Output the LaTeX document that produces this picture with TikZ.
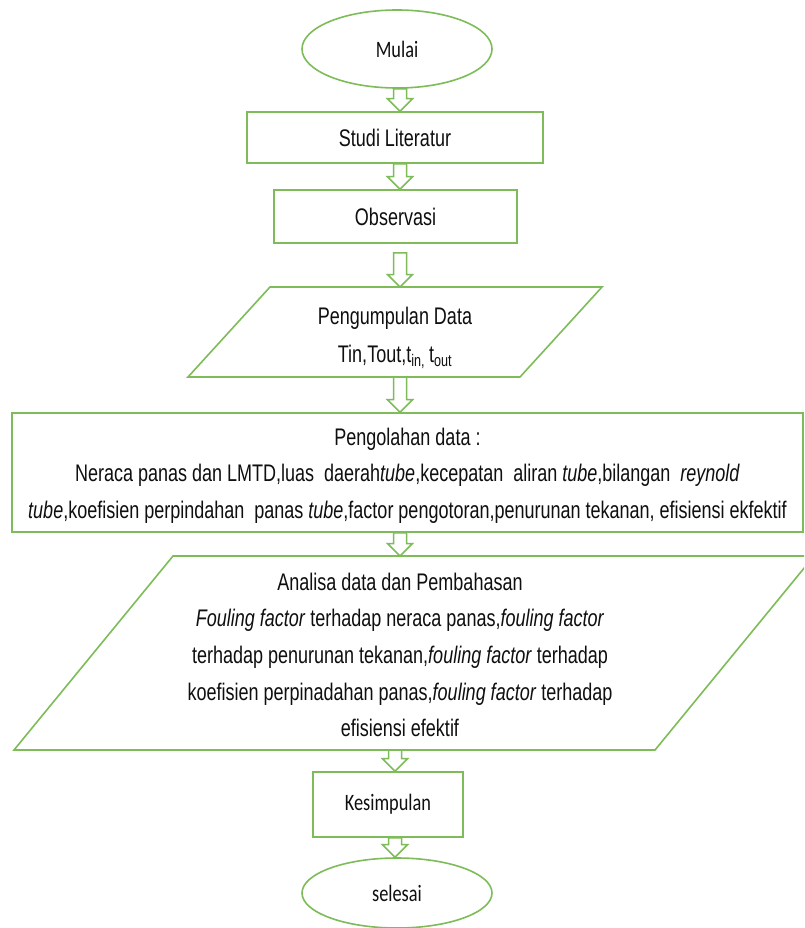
\documentclass[tikz,border=0pt]{standalone}
\usepackage{fontspec}
\setmainfont{Liberation Sans}
\newfontfamily\nf[FakeStretch=0.75]{Liberation Sans}
\newfontfamily\cf[FakeStretch=0.78]{Carlito}
\usetikzlibrary{shapes.geometric,calc}
\definecolor{lg}{RGB}{125,188,88}
\definecolor{tx}{RGB}{15,15,15}
\tikzset{
  edge/.style={draw=lg,line width=1.6pt},
  term/.style={ellipse,edge,fill=white,inner sep=0pt,text=tx,
    font=\cf\fontsize{23.5}{28}\selectfont},
  procbox/.style={rectangle,edge,fill=white,inner sep=0pt,text=tx,
    font=\nf\fontsize{24}{28}\selectfont},
  txt/.style={inner sep=0pt,text=tx,align=center},
  arrline/.style={draw=lg,line width=1.5pt,fill=white,line join=miter}
}
\newcommand\barrow[2]{%
  \draw[arrline] let \p1=(#1), \p2=(#2) in
    (\x1-6.5pt,\y1) -- (\x1-6.5pt,\y2+12.5pt) -- (\x1-12.5pt,\y2+12.5pt)
    -- (\x1,\y2) -- (\x1+12.5pt,\y2+12.5pt) -- (\x1+6.5pt,\y2+12.5pt)
    -- (\x1+6.5pt,\y1) -- cycle;}
\begin{document}
\begin{tikzpicture}[x=1pt,y=-1pt]
\useasboundingbox (0,0) rectangle (804,928);
\fill[white] (0,0) rectangle (804,928);
\begin{scope}
\clip (0,0) rectangle (804,928);
% terminals and boxes
\node[term,minimum width=190pt,minimum height=78pt] (mulai) at (397,49) {Mulai};
\node[procbox,minimum width=296pt,minimum height=51pt] (studi) at (395,137.5) {Studi Literatur};
\node[procbox,minimum width=243pt,minimum height=53pt] (obs) at (395.5,216.5) {Observasi};
% Pengumpulan data (parallelogram)
\draw[edge,fill=white] (270,287) -- (602,287) -- (520,377) -- (188,377) -- cycle;
\coordinate (kt) at (400,287);
\coordinate (kb) at (400,377);
\node[txt,font=\nf\fontsize{24}{38}\selectfont] (kumpul) at (395,338)
  {Pengumpulan Data\\Tin,Tout,t\textsubscript{in,}\,t\textsubscript{out}};
% Pengolahan data
\node[rectangle,edge,fill=white,minimum width=791pt,minimum height=119pt] (olah) at (407.5,472.5) {};
\node[txt,font=\nf\fontsize{24}{36.5}\selectfont] (olahtxt) at (407.5,475.5)
  {Pengolahan data :\\
   Neraca panas dan LMTD,luas\ \ daerah\textit{tube},kecepatan\ \ aliran \textit{tube},bilangan\ \ \textit{reynold}\\
   \textit{tube},koefisien perpindahan\ \ panas \textit{tube},factor pengotoran,penurunan tekanan, efisiensi ekfektif};
% Analisa (parallelogram)
\draw[edge,fill=white] (173,556) -- (814,556) -- (655,750) -- (14,750) -- cycle;
\coordinate (at) at (400,556);
\coordinate (ab) at (395,750);
\node[txt,font=\nf\fontsize{24}{36.7}\selectfont] (anal) at (400,655)
  {Analisa data dan Pembahasan\\
   \textit{Fouling factor} terhadap neraca panas,\textit{fouling factor}\\
   terhadap penurunan tekanan,\textit{fouling factor} terhadap\\
   koefisien perpinadahan panas,\textit{fouling factor} terhadap\\
   efisiensi efektif};
\node[procbox,font=\cf\fontsize{23.5}{28}\selectfont,minimum width=150pt,minimum height=65pt] (kes) at (388,804.5) {Kesimpulan};
\node[term,minimum width=190pt,minimum height=70pt] (sel) at (397,893) {selesai};
% block arrows
\barrow{[xshift=3pt]mulai.south}{[xshift=5pt]studi.north}
\barrow{[xshift=5pt]studi.south}{[xshift=4.5pt]obs.north}
\barrow{[xshift=4.5pt,yshift=-9pt]obs.south}{kt}
\barrow{kb}{[xshift=-7.5pt]olah.north}
\barrow{[xshift=-7.5pt]olah.south}{at}
\barrow{ab}{[xshift=7pt]kes.north}
\barrow{[xshift=7pt]kes.south}{[xshift=-2pt]sel.north}
\end{scope}
\end{tikzpicture}
\end{document}
